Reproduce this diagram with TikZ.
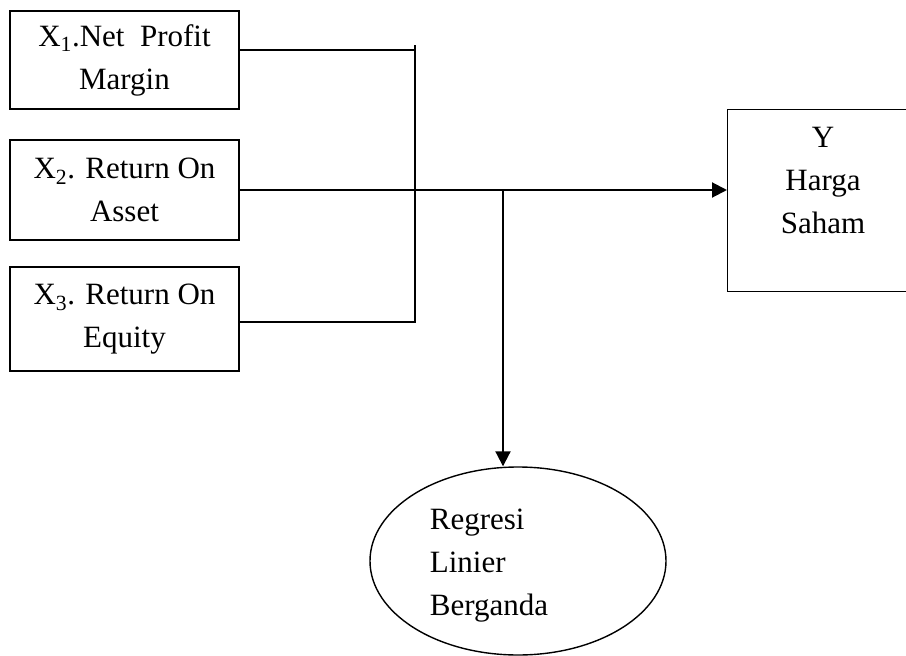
\documentclass[tikz,border=0pt]{standalone}
\usepackage{fontspec}
\setmainfont{Liberation Serif}
\usetikzlibrary{positioning,shapes.geometric,arrows.meta}

\begin{document}
\begin{tikzpicture}[x=1pt,y=-1pt,line cap=rect,line join=miter,
    varbox/.style={draw,line width=1.4pt,minimum width=229pt,inner sep=0pt,align=center,
      font=\fontsize{31}{43}\selectfont},
    txt/.style={inner sep=0pt,font=\fontsize{31}{43}\selectfont},
    link/.style={line width=2pt},
    tip/.style={-{Triangle[length=15pt,width=15pt]}}]
  \useasboundingbox (0,0) rectangle (906,656);
  % variabel bebas
  \node[varbox,minimum height=98pt] (x1) at (124.5,60) {X\textsubscript{1}.Net\ \ Profit\\Margin};
  \node[varbox,minimum height=100pt] (x2) at (124.5,190) {X\textsubscript{2}. Return On\\Asset};
  \node[varbox,minimum height=104pt] (x3) at (124.5,319) {X\textsubscript{3}. Return On\\Equity};
  % variabel terikat
  \node[draw,line width=1.4pt,minimum width=191pt,minimum height=182pt,anchor=north west] (ybox) at (727,109) {};
  \node[txt,align=center,anchor=north] (ytxt) at (823,127) {Y\\Harga\\Saham};
  % alat analisis
  \node[draw,ellipse,line width=1.4pt,minimum width=296pt,minimum height=188pt] (reg) at (518,561) {};
  \node[txt,align=left] (regtxt) at (489,566) {Regresi\\Linier\\Berganda};
  % penghubung
  \coordinate (bar) at (415,46);\coordinate (jn) at (503,190);
  \draw[link] ([yshift=10pt]x1.east) -- ([yshift=10pt]x1.east -| bar);
  \draw[link] (bar) -- (bar |- 0,322) -- ([yshift=-3pt]x3.east);
  \draw[link,tip] (x2.east) -- (x2.east -| ybox.west);
  \draw[link,tip] (jn) -- (jn |- reg.north);
\end{tikzpicture}
\end{document}
